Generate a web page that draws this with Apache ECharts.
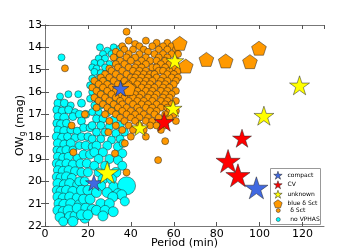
<!DOCTYPE html>
<html><head><meta charset="utf-8">
<script src="https://cdn.jsdelivr.net/npm/echarts@6/dist/echarts.min.js"></script>
<style>html,body{margin:0;padding:0;background:#fff}#c{width:360px;height:252px}</style>
</head><body><div id="c"></div>
<script>
// x tick labels / y tick labels
const xTicks = [0, 20, 40, 60, 80, 100, 120];
const yTicks = [13, 14, 15, 16, 17, 18, 19, 20, 21, 22];

// [period (min), OW_g (mag), marker size]
const compact = [[35.2,15.84,16],[22.8,20.06,16],[98.5,20.29,22]];
const cv = [[55.5,17.33,19],[91.8,18.07,18],[85.3,19.09,23],[89.9,19.73,23]];
const unknown = [[60.5,14.6,17],[59.7,16.73,17],[44.2,17.6,16],[29,19.6,22],[102,17.06,19],[118.6,15.7,19]];
// [period, OW_g]
const blueDSct = [[62.8,13.82],[75.2,14.54],[84.2,14.61],[95.5,14.64],[99.7,14.04],[65.6,14.84],[38.8,15.84]];

const dSct = [
[38,13.3],[39,13.7],[47,13.7],[52,13.8],[57,13.8],[42,13.85],
[36,13.95],[44,13.95],[50,13.95],[55,13.95],[59,13.95],
[37,14.1],[41,14.1],[46,14.1],[53,14.1],[57,14.1],[61,14.1],
[33,14.2],[48,14.2],
[35,14.3],[39,14.3],[44,14.3],[51,14.3],[55,14.3],[59,14.3],[62,14.3],
[32,14.45],[38,14.45],[42,14.45],[47,14.45],[53,14.45],[57,14.45],
[35,14.6],[40,14.6],[45,14.6],[49,14.6],[52,14.6],[56,14.6],[61,14.6],
[33,14.75],[37,14.75],[43,14.75],[47,14.75],[54,14.75],[58,14.75],
[9.3,14.94],[30,14.95],[34,14.9],[39,14.9],[42,14.9],[45,14.9],[50,14.9],[52,14.9],[56,14.9],[60,14.9],
[31,15.05],[36,15.05],[41,15.05],[44,15.05],[47,15.05],[53,15.05],[55,15.05],[58,15.05],[62,15.05],
[28,15.2],[33,15.2],[38,15.2],[43,15.2],[46,15.2],[49,15.2],[51,15.2],[57,15.2],[60,15.2],
[26,15.35],[30,15.35],[35,15.35],[40,15.35],[42,15.35],[45,15.35],[48,15.35],[52,15.35],[55,15.35],[59,15.35],[62,15.35],
[23,15.5],[27,15.5],[32,15.5],[37,15.5],[41,15.5],[44,15.5],[47,15.5],[50,15.5],[54,15.5],[57,15.5],[61,15.5],
[25,15.65],[29,15.65],[34,15.65],[39,15.65],[43,15.65],[46,15.65],[49,15.65],[53,15.65],[56,15.65],[60,15.65],
[22,15.8],[27,15.8],[31,15.8],[37,15.8],[41,15.8],[45,15.8],[48,15.8],[51,15.8],[55,15.8],[58,15.8],
[24,15.95],[29,15.95],[33,15.95],[40,15.95],[43,15.95],[47,15.95],[50,15.95],[54,15.95],[57,15.95],[61,15.95],
[26,16.1],[31,16.1],[35,16.1],[38,16.1],[42,16.1],[45,16.1],[49,16.1],[52,16.1],[56,16.1],[59,16.1],
[23,16.25],[28,16.25],[33,16.25],[37,16.25],[41,16.25],[44,16.25],[48,16.25],[51,16.25],[55,16.25],[58,16.25],
[25,16.4],[30,16.4],[35,16.4],[39,16.4],[43,16.4],[46,16.4],[50,16.4],[54,16.4],[57,16.4],[61,16.4],
[27,16.55],[32,16.55],[36,16.55],[41,16.55],[45,16.55],[48,16.55],[52,16.55],[56,16.55],[59,16.55],
[24,16.7],[29,16.7],[34,16.7],[38,16.7],[43,16.7],[47,16.7],[50,16.7],[54,16.7],[57,16.7],
[31,16.85],[36,16.85],[40,16.85],[44,16.85],[49,16.85],[52,16.85],[58,16.85],[61,16.85],
[18.6,17.0],[28,17.0],[33,17.0],[38,17.0],[42,17.0],[46,17.0],[51,17.0],[56,17.0],[60,17.0],
[35,17.15],[40,17.15],[44,17.15],[48,17.15],[53,17.15],[58,17.15],
[30,17.3],[37,17.3],[42,17.3],[47,17.3],[50,17.3],[61,17.3],
[12.4,17.5],[33,17.5],[39,17.5],[44,17.5],[49,17.5],[52,17.5],[56,17.5],
[36,17.7],[41,17.7],[46,17.7],[54,17.7],[29.5,17.8],
[40,18.0],[47,18.0],[56,18.2],[37.2,18.3],[13.2,18.7],[32.6,18.75],[52.7,19.05],[38,19.6]
];

// [period, OW_g, marker size]
const noVphas = [
[7.7,14.45,7],[7,16.2,7],[10.9,16.1,7],[15.5,16.1,7],
[6,16.5,8],[9,16.5,8],[12,16.6,7],
[5.5,16.8,8],[8,16.85,8],[11,16.8,8],[14,16.9,7],
[6,17.1,8],[9,17.15,9],[13,17.1,8],
[5.5,17.4,8],[7.5,17.45,9],[10,17.4,8],
[6,17.7,8],[9,17.75,9],[12,17.7,8],[15,17.75,8],
[5.5,18.0,9],[8,18.05,9],[10.5,18.0,8],[14,18.05,8],
[6,18.3,9],[9,18.35,9],[12,18.3,9],
[5.5,18.6,8],[7.5,18.65,9],[10,18.6,9],[13,18.6,8],
[6,18.9,9],[8.5,18.95,9],[11,18.9,9],[15,18.95,8],
[5.5,19.2,9],[7,19.25,9],[10,19.2,9],[13,19.25,9],
[6,19.5,9],[8.5,19.55,10],[11,19.5,9],[14,19.55,9],
[5.5,19.8,9],[7.5,19.85,10],[10,19.8,10],[12.5,19.85,9],
[6,20.1,10],[9,20.15,10],[11.5,20.1,10],[15,20.15,9],
[5.5,20.4,9],[7.5,20.45,10],[10,20.4,10],[13,20.45,10],
[6,20.7,10],[8.5,20.75,10],[11.5,20.7,10],[15,20.75,10],
[6.5,21.0,10],[9,21.05,11],[12,21.0,10],[16,21.05,10],
[6,21.3,10],[8.5,21.35,10],[11,21.3,11],
[7,21.6,10],[11.6,21.6,11],[14,21.55,10],
[8.5,21.8,9],[13,21.8,10],[18.6,21.65,10],
[17,16.5,8],[16,17.0,8],[19,17.0,8],[17,17.3,8],[18,17.6,8],[21,17.6,8],[17,18.0,8],[20,18.0,8],
[16,18.4,8],[19,18.4,9],[22,18.45,8],[18,18.8,9],[21,18.8,9],[16.5,19.2,9],[19.5,19.2,9],
[17,19.6,9],[20,19.6,9],[16,20.0,9],[18.5,20.0,9],[17,20.4,10],[20,20.4,10],[18,20.8,10],[21,20.8,10],
[15,21.2,10],[19,21.2,10],[22,21.25,10],[17,21.5,10],[20,21.5,10],
[32,14.0,7],[35,14.05,7],[25.6,14.0,7],[29,14.15,7],[27,14.3,7],[31,14.3,7],[34,14.35,7],
[25,14.5,7],[28,14.5,7],[33,14.55,7],[23,14.7,7],[26,14.7,7],[30,14.75,7],[22,14.9,7],[24,14.95,7],
[28,14.9,7],[23,15.1,7],[26,15.15,7],[22,15.4,7],[25,15.4,7],[29,15.45,7],[21,15.7,7],[24,15.7,7],
[36.4,15.5,7],[22,16.0,7],[26,16.0,7],[30,16.05,7],[21,16.3,7],[24,16.3,7],[28,16.35,7],[33,16.3,7],
[23,16.6,7],[26,16.6,7],[31,16.65,7],[22,16.9,7],[25,16.9,7],[29,16.95,7],[34,16.9,7],
[24,17.2,8],[27,17.2,8],[32,17.25,8],[22,17.5,8],[26,17.5,8],[30,17.55,8],[35,17.5,8],
[24,17.8,8],[28,17.8,8],[33,17.85,8],[37,17.8,8],[22,18.1,8],[26,18.1,8],[31,18.15,8],[35,18.1,8],
[24,18.4,9],[29,18.4,9],[34,18.45,9],[36.4,18.3,8],[23,18.7,9],[27,18.7,9],[36,18.75,9],
[25,19.0,9],[30,19.0,9],[34,19.05,9],[23,19.3,9],[28,19.3,9],[36,19.3,9],[25,19.6,9],[33,19.6,10],
[27,19.9,10],[31,19.9,10],[26,20.2,10],[32,20.25,10],[38,20.2,18],[24,20.5,10],[29,20.5,10],
[34,20.55,10],[35.7,20.6,10],[31.6,20.7,10],[37.2,20.9,9],[26,21.0,10],[30,21.0,10],
[24,21.3,10],[28,21.3,10],[31.8,21.36,10],[27,21.55,10]
];

const STAR = 'path://M100 0 L122.45 69.1 L195.11 69.1 L136.33 111.8 L158.78 180.9 L100 138.2 L41.22 180.9 L63.67 111.8 L4.89 69.1 L77.55 69.1 Z';
const PENT = 'path://M100 0 L195.11 69.1 L158.78 180.9 L41.22 180.9 L4.89 69.1 Z';
const AR = 1.0515;
const EDGE = '#222';
const edge = {borderColor:EDGE, borderWidth:0.5, opacity:1};
const font = 'DejaVu Sans';
const COL = {compact:'#4169e1', CV:'#ff0000', unknown:'#ffff00', blueD:'#ff9900', dSct:'#ff9900', noV:'#00ffff'};

const chart = echarts.init(document.getElementById('c'), null, {renderer:'canvas'});
const axisCommon = {
  min:0, max:130, interval:20,
  axisLine:{show:true, lineStyle:{color:'#777', width:1}},
  axisTick:{show:true, inside:true, length:4, lineStyle:{color:'#555'}},
  splitLine:{show:false}
};
const legItem = (name, icon, color) => ({name, icon, itemStyle:{color, borderColor:EDGE, borderWidth:0.5}});
chart.setOption({
  animation:false,
  textStyle:{fontFamily:font},
  grid:{left:45, top:25, right:36, bottom:26, containLabel:false, outerBoundsMode:'none'},
  xAxis:[
    Object.assign({type:'value', position:'bottom',
      name:'Period (min)', nameLocation:'middle', nameGap:12, nameMoveOverlap:false,
      nameTextStyle:{fontSize:11, color:'#000', fontFamily:font, verticalAlign:'top'},
      axisLabel:{show:true, fontSize:11, color:'#000', margin:3, fontFamily:font,
        showMaxLabel:false,
        formatter:v => xTicks.indexOf(v) >= 0 ? String(v) : ''}}, axisCommon),
    Object.assign({type:'value', position:'top', axisLabel:{show:false}}, axisCommon)
  ],
  yAxis:[
    {type:'value', position:'left', inverse:true, min:13, max:22, interval:1,
      name:'OW{s|g} (mag)', nameLocation:'middle', nameGap:18, nameRotate:90, nameMoveOverlap:false,
      nameTextStyle:{fontSize:11, color:'#000', fontFamily:font,
        rich:{s:{fontSize:8, fontFamily:font, color:'#000', verticalAlign:'bottom', padding:[5,0,0,0]}}},
      axisLine:{show:true, lineStyle:{color:'#777'}},
      axisTick:{show:true, inside:true, length:4, lineStyle:{color:'#555'}},
      axisLabel:{fontSize:11, color:'#000', margin:3, fontFamily:font,
        formatter:v => yTicks.indexOf(v) >= 0 ? String(v) : ''},
      splitLine:{show:false}},
    {type:'value', position:'right', inverse:true, min:13, max:22, interval:1,
      axisLine:{show:true, lineStyle:{color:'#777'}},
      axisTick:{show:true, inside:true, length:4, lineStyle:{color:'#555'}},
      axisLabel:{show:false}, splitLine:{show:false}}
  ],
  legend:[
    {left:273.5, top:171, orient:'vertical', padding:0, itemWidth:9, itemHeight:8, itemGap:1,
      data:[legItem('compact',STAR,COL.compact), legItem('CV',STAR,COL.CV),
            legItem('unknown',STAR,COL.unknown), legItem('blue δ Sct',PENT,COL.blueD)],
      textStyle:{fontSize:6, lineHeight:8, color:'#000', fontFamily:font}},
    {left:276, top:206.5, orient:'vertical', padding:0, itemWidth:4, itemHeight:4, itemGap:1,
      data:[legItem('δ Sct','circle',COL.dSct), legItem('no VPHAS','circle',COL.noV)],
      textStyle:{fontSize:6, lineHeight:8, color:'#000', fontFamily:font, padding:[0,0,0,5]}}
  ],
  graphic:[{type:'rect', left:270, top:168, shape:{width:50, height:56},
    style:{fill:'#fff', stroke:'#999', lineWidth:1}, z:-1, zlevel:0}],
  series:[
    {type:'scatter', name:'no VPHAS', data:noVphas, symbol:'circle',
      symbolSize:v=>v[2], itemStyle:Object.assign({color:COL.noV}, edge), z:2},
    {type:'scatter', name:'δ Sct', data:dSct, symbol:'circle', symbolSize:7,
      itemStyle:Object.assign({color:COL.dSct}, edge), z:3},
    {type:'scatter', name:'blue δ Sct', data:blueDSct, symbol:PENT, symbolSize:[14*AR,14],
      itemStyle:Object.assign({color:COL.blueD}, edge), z:4},
    {type:'scatter', name:'CV', data:cv, symbol:STAR, symbolSize:v=>[v[2]*AR, v[2]],
      itemStyle:Object.assign({color:COL.CV}, edge), z:5},
    {type:'scatter', name:'compact', data:compact, symbol:STAR, symbolSize:v=>[v[2]*AR, v[2]],
      itemStyle:Object.assign({color:COL.compact}, edge), z:6},
    {type:'scatter', name:'unknown', data:unknown, symbol:STAR, symbolSize:v=>[v[2]*AR, v[2]],
      itemStyle:Object.assign({color:COL.unknown}, edge), z:7}
  ]
});
</script></body></html>
